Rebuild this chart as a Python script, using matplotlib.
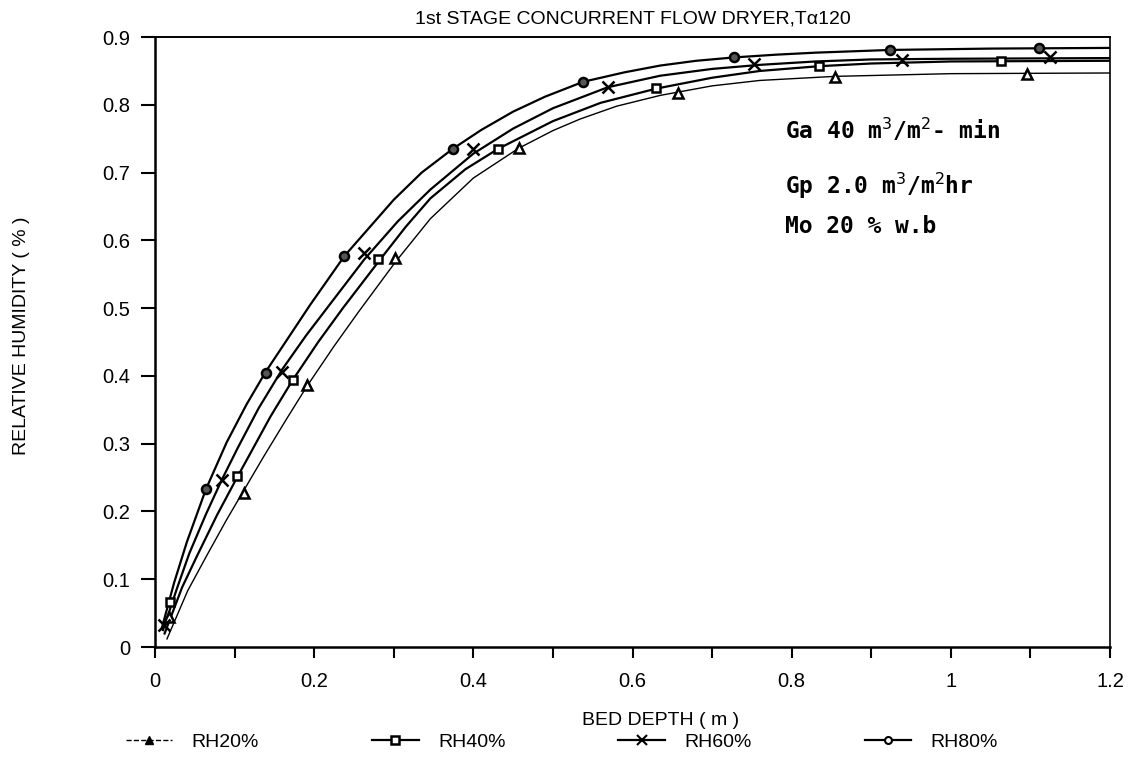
import matplotlib.pyplot as plt

# fitted curves, points
rh80_cx = [0.009, 0.024, 0.040, 0.064, 0.090, 0.115, 0.139, 0.195, 0.238, 0.300, 0.335, 0.374, 0.410, 0.450,
           0.490, 0.538, 0.590, 0.635, 0.680, 0.728, 0.780, 0.830, 0.924, 1.05, 1.2]
rh80_cy = [0.030, 0.095, 0.155, 0.233, 0.302, 0.358, 0.406, 0.505, 0.577, 0.660, 0.700, 0.735, 0.763, 0.790,
           0.812, 0.834, 0.848, 0.858, 0.865, 0.870, 0.874, 0.877, 0.881, 0.883, 0.884]
rh60_cx = [0.010, 0.028, 0.043, 0.064, 0.084, 0.104, 0.130, 0.160, 0.190, 0.218, 0.263, 0.305, 0.346, 0.400,
           0.450, 0.500, 0.569, 0.635, 0.700, 0.760, 0.830, 0.900, 1.0, 1.2]
rh60_cy = [0.025, 0.088, 0.138, 0.196, 0.247, 0.294, 0.352, 0.410, 0.460, 0.503, 0.572, 0.628, 0.675, 0.728,
           0.765, 0.795, 0.826, 0.843, 0.853, 0.859, 0.864, 0.867, 0.868, 0.869]
rh40_cx = [0.012, 0.034, 0.053, 0.078, 0.103, 0.118, 0.145, 0.173, 0.205, 0.236, 0.283, 0.315, 0.346, 0.390,
           0.431, 0.500, 0.560, 0.630, 0.700, 0.760, 0.834, 0.900, 1.0, 1.2]
rh40_cy = [0.020, 0.088, 0.135, 0.195, 0.250, 0.282, 0.340, 0.394, 0.450, 0.500, 0.572, 0.620, 0.662, 0.705,
           0.735, 0.776, 0.803, 0.824, 0.840, 0.850, 0.857, 0.861, 0.864, 0.865]
rh20_cx = [0.015, 0.041, 0.065, 0.090, 0.112, 0.136, 0.165, 0.191, 0.225, 0.256, 0.302, 0.346, 0.400, 0.457,
           0.500, 0.534, 0.580, 0.635, 0.700, 0.760, 0.854, 1.0, 1.2]
rh20_cy = [0.012, 0.083, 0.135, 0.188, 0.232, 0.280, 0.336, 0.385, 0.444, 0.495, 0.568, 0.632, 0.692, 0.736,
           0.762, 0.779, 0.798, 0.814, 0.828, 0.836, 0.842, 0.846, 0.847]

# measured points
rh80_x = [0.064, 0.139, 0.238, 0.374, 0.538, 0.728, 0.924, 1.111]
rh80_y = [0.233, 0.405, 0.577, 0.735, 0.834, 0.870, 0.881, 0.884]
rh60_x = [0.011, 0.084, 0.160, 0.263, 0.400, 0.569, 0.753, 0.939, 1.125]
rh60_y = [0.032, 0.246, 0.406, 0.581, 0.735, 0.826, 0.860, 0.866, 0.870]
rh40_x = [0.019, 0.103, 0.173, 0.280, 0.431, 0.630, 0.834, 1.063]
rh40_y = [0.066, 0.252, 0.394, 0.572, 0.735, 0.825, 0.857, 0.865]
rh20_x = [0.017, 0.112, 0.191, 0.302, 0.457, 0.657, 0.854, 1.096]
rh20_y = [0.044, 0.227, 0.387, 0.574, 0.736, 0.817, 0.841, 0.845]

plt.rcParams['font.family'] = ['Liberation Sans', 'DejaVu Sans']

fig = plt.figure(figsize=(11.35, 7.58), dpi=100)
ax = fig.add_axes([0.1366, 0.1464, 0.8414, 0.8047])

ax.plot(rh80_cx, rh80_cy, color='black', lw=1.6)
ax.plot(rh60_cx, rh60_cy, color='black', lw=1.6)
ax.plot(rh40_cx, rh40_cy, color='black', lw=1.6)
ax.plot(rh20_cx, rh20_cy, color='black', lw=1.0)

ax.plot(rh20_x, rh20_y, ls='none', marker='^', mfc='white', mec='black', mew=1.8, ms=7)
ax.plot(rh40_x, rh40_y, ls='none', marker='s', mfc='white', mec='black', mew=1.8, ms=6)
ax.plot(rh60_x, rh60_y, ls='none', marker='x', color='black', mew=1.8, ms=8)
ax.plot(rh80_x, rh80_y, ls='none', marker='o', mfc='#555555', mec='black', mew=1.8, ms=6.5)

ax.set_xlim(0, 1.2)
ax.set_ylim(0, 0.9)
ax.set_xticks([i / 10 for i in range(13)], minor=True)
ax.set_xticks([0, 0.2, 0.4, 0.6, 0.8, 1.0, 1.2])
ax.set_xticklabels(['0', '0.2', '0.4', '0.6', '0.8', '1', '1.2'])
ax.set_yticks([i / 10 for i in range(10)])
ax.set_yticklabels(['0', '0.1', '0.2', '0.3', '0.4', '0.5', '0.6', '0.7', '0.8', '0.9'])
ax.tick_params(axis='x', which='both', direction='out', length=8, width=1.5, pad=10, labelsize=14.5)
ax.tick_params(axis='y', direction='out', length=10, width=1.5, pad=8, labelsize=14.5)
for s in ax.spines.values():
    s.set_linewidth(1.8)
ax.spines['right'].set_linewidth(1.2)
ax.spines['top'].set_linewidth(1.4)

ax.set_title('1st STAGE CONCURRENT FLOW DRYER,T\u03b1120', fontsize=14, pad=10)
ax.set_xlabel('BED DEPTH ( m )', fontsize=14)
ax.set_ylabel('RELATIVE HUMIDITY ( % )', fontsize=14)
ax.xaxis.set_label_coords(0.529, -0.106)
ax.yaxis.set_label_coords(-0.131, 0.51)

mono = {'family': 'DejaVu Sans Mono', 'fontsize': 16.5, 'fontweight': 'bold', 'va': 'center'}
ax.text(0.660, 0.8475, 'Ga 40 m$^3$/m$^2$- min', transform=ax.transAxes, **mono)
ax.text(0.660, 0.756, 'Gp 2.0 m$^3$/m$^2$hr', transform=ax.transAxes, **mono)
ax.text(0.660, 0.689, 'Mo 20 % w.b', transform=ax.transAxes, **mono)

h20, = ax.plot([], [], color='black', lw=1.0, ls='--', marker='^', mfc='black', ms=6)
h40, = ax.plot([], [], color='black', lw=1.6, marker='s', mfc='white', mec='black', mew=1.8, ms=6)
h60, = ax.plot([], [], color='black', lw=1.6, marker='x', mew=1.5, ms=7)
h80, = ax.plot([], [], color='black', lw=1.6, marker='o', mfc='white', mew=1.5, ms=5)
fig.legend([h20, h40, h60, h80], ['RH20%', 'RH40%', 'RH60%', 'RH80%'],
           loc='lower center', bbox_to_anchor=(0.495, -0.014), ncol=4, frameon=False,
           fontsize=14, handlelength=2.4, handletextpad=1.0, columnspacing=5.8)

fig.savefig('out.png', dpi=100)
